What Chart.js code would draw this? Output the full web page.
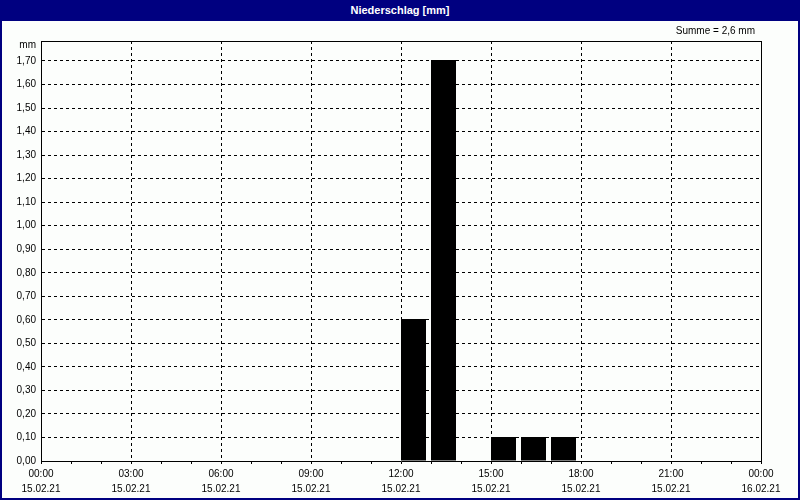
<!DOCTYPE html>
<html>
<head>
<meta charset="utf-8">
<script src="https://cdn.jsdelivr.net/npm/chart.js@4/dist/chart.umd.min.js"></script>
<style>
  body { margin: 0; }
  #wrap { position: relative; width: 800px; height: 500px; background: #fcfefc; overflow: hidden; }
  #title { position: absolute; left: 0; top: 0; width: 800px; height: 21px; background: #000080; color: #fff;
           font: bold 11px "Liberation Sans", sans-serif; line-height: 21px; text-align: center; z-index: 2; }
  #frame { position: absolute; left: 0; top: 0; width: 800px; height: 500px; box-sizing: border-box;
           border: 2px solid #000080; border-top: none; z-index: 2; pointer-events: none; }
  canvas { position: absolute; left: 0; top: 0; }
</style>
</head>
<body>
<div id="wrap">
  <div id="title">Niederschlag [mm]</div>
  <canvas id="chart" width="800" height="500"></canvas>
  <div id="frame"></div>
</div>
<script>
// Stundenwerte 15.02.21 00:00 - 24:00
const rain = [0, 0, 0, 0, 0, 0, 0, 0, 0, 0, 0, 0,
              0.6, 1.7, 0, 0.1, 0.1, 0.1, 0, 0, 0, 0, 0, 0];
const timeLabels = ['00:00', '03:00', '06:00', '09:00', '12:00', '15:00', '18:00', '21:00', '00:00'];
const dateLabels = ['15.02.21', '15.02.21', '15.02.21', '15.02.21', '15.02.21',
                    '15.02.21', '15.02.21', '15.02.21', '16.02.21'];
const yMax = 1.785;
const unit = 'mm';

const total = rain.reduce((a, b) => a + b, 0);
const FONT = { family: '"Liberation Sans", sans-serif', size: 10 };

// Balkenkanten auf die Gitterzeile legen, Rahmen oben/rechts + Zusatztexte
const extras = {
  id: 'extras',
  beforeDatasetsDraw(chart) {
    chart.getDatasetMeta(0).data.forEach((el) => {
      el.y = Math.round(el.y - 0.5);
      el.x = Math.round(el.x - 0.5) + 0.5;
    });
  },
  afterDraw(chart) {
    const { ctx, chartArea: a } = chart;
    ctx.save();
    ctx.strokeStyle = '#000';
    ctx.lineWidth = 1;
    ctx.beginPath();
    ctx.moveTo(a.left, a.top + 0.5);
    ctx.lineTo(a.right + 0.5, a.top + 0.5);
    ctx.lineTo(a.right + 0.5, a.bottom);
    ctx.stroke();
    ctx.fillStyle = '#000';
    ctx.font = '10px "Liberation Sans", sans-serif';
    ctx.textBaseline = 'middle';
    ctx.textAlign = 'right';
    ctx.fillText('Summe = ' + total.toFixed(1).replace('.', ',') + ' ' + unit, a.right - 6, 31);
    ctx.fillText(unit, a.left - 5, 45);
    ctx.restore();
  }
};

const chart = new Chart(document.getElementById('chart'), {
  type: 'bar',
  data: {
    datasets: [{
      label: 'Niederschlag',
      // Balken beginnen jeweils an der vollen Stunde (25 von 30 px), 0-Werte nicht zeichnen
      data: rain.map((v, h) => ({ x: h + 0.4167, y: v === 0 ? null : v })),
      backgroundColor: '#000',
      borderWidth: 0,
      inflateAmount: 0,
      barThickness: 25
    }]
  },
  options: {
    responsive: false,
    animation: false,
    layout: { padding: { left: 0, top: 41, right: 39, bottom: 0 } },
    plugins: { legend: { display: false }, tooltip: { enabled: false }, title: { display: false } },
    scales: {
      x: {
        type: 'linear',
        min: 0,
        max: 24,
        offset: false,
        afterFit: (s) => { s.height = 39; },
        grid: {
          offset: false,
          color: (c) => (c.tick && c.tick.value % 3 === 0 ? '#000' : 'rgba(0,0,0,0)'),
          tickColor: '#000',
          tickLength: 3,
          lineWidth: 1
        },
        border: { display: true, color: '#000', width: 1, dash: [3, 3] },
        ticks: {
          stepSize: 1,
          autoSkip: false,
          maxRotation: 0,
          color: '#000',
          padding: 3,
          font: { ...FONT, lineHeight: '15px' },
          callback: (v) => (v % 3 === 0 ? [timeLabels[v / 3], dateLabels[v / 3]] : '')
        }
      },
      y: {
        min: 0,
        max: yMax,
        afterFit: (s) => { s.width = 41; },
        grid: { color: '#000', drawTicks: false, lineWidth: 1 },
        border: { display: true, color: '#000', width: 1, dash: [3, 3] },
        ticks: {
          stepSize: 0.1,
          includeBounds: false,
          color: '#000',
          padding: 5,
          font: FONT,
          callback: (v) => v.toFixed(2).replace('.', ',')
        }
      }
    }
  },
  plugins: [extras]
});
</script>
</body>
</html>
